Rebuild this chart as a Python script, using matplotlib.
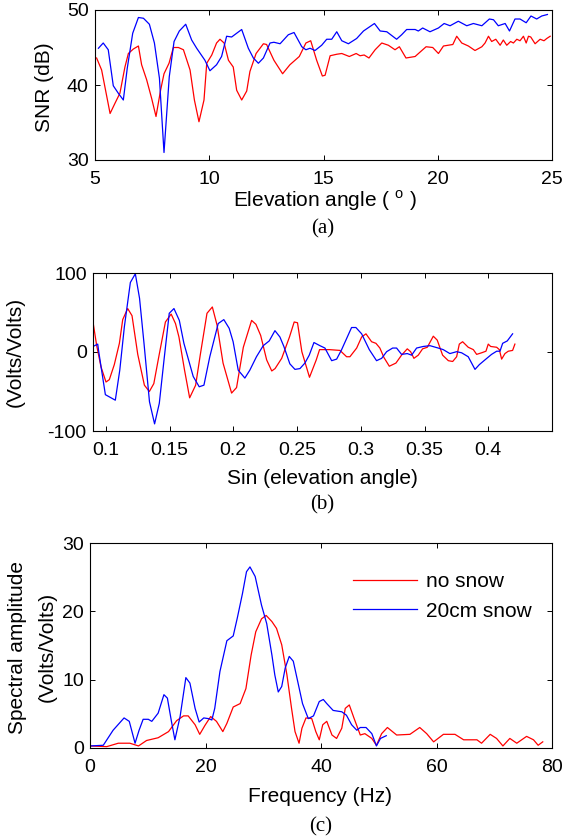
import matplotlib
matplotlib.use("Agg")
import matplotlib.pyplot as plt

plt.rcParams['font.family'] = ['Liberation Sans', 'DejaVu Sans']
plt.rcParams['mathtext.fontset'] = 'custom'
plt.rcParams['mathtext.rm'] = 'Liberation Sans'
plt.rcParams['axes.unicode_minus'] = False
plt.rcParams['font.size'] = 14

# ---------------- Panel (a): SNR vs elevation angle ----------------
a_blue_x = [5.15, 5.36, 5.58, 5.8, 6.02, 6.24, 6.41, 6.65, 6.9, 7.12, 7.38, 7.6, 7.82, 8.02, 8.25,
            8.46, 8.69, 8.97, 9.23, 9.45, 9.81, 10.03, 10.32, 10.54, 10.76, 10.98, 11.42, 11.71,
            11.93, 12.15, 12.37, 12.66, 12.83, 13.1, 13.46, 13.71, 14.05, 14.23, 14.41, 14.63,
            14.92, 15.14, 15.36, 15.58, 15.8, 16.09, 16.45, 16.75, 17.23, 17.48, 17.77, 18.2,
            18.42, 18.64, 19.01, 19.15, 19.34, 19.66, 20.03, 20.28, 20.54, 20.9, 21.27, 21.56,
            21.93, 22.26, 22.44, 22.65, 22.95, 23.14, 23.38, 23.6, 23.87, 24.08, 24.33, 24.55, 24.8]
a_blue_y = [44.9, 45.6, 44.7, 39.9, 38.9, 38.0, 42.2, 46.9, 49.0, 48.9, 48.1, 45.6, 40.9, 31.0, 41.1,
            45.8, 47.2, 48.1, 46.0, 44.9, 43.3, 41.9, 42.7, 43.8, 46.5, 46.4, 47.4, 44.9,
            43.6, 42.9, 43.6, 45.6, 45.7, 45.5, 46.7, 47.0, 45.1, 44.7, 44.9, 44.6,
            45.3, 46.1, 46.1, 47.1, 45.9, 45.5, 46.2, 47.2, 48.2, 47.2, 47.1, 46.1,
            46.7, 47.4, 47.4, 47.2, 47.6, 47.1, 47.6, 48.2, 47.9, 48.5, 47.9, 48.2,
            47.9, 48.8, 48.7, 47.9, 48.2, 47.2, 48.8, 48.8, 48.3, 49.2, 48.8, 49.2, 49.4]

a_red_x = [5.07, 5.29, 5.66, 5.88, 6.09, 6.31, 6.46, 6.68, 6.9, 7.04, 7.26, 7.48, 7.67, 7.87, 8.02,
           8.24, 8.43, 8.65, 8.87, 9.16, 9.35, 9.55, 9.77, 9.89, 10.11, 10.32, 10.47, 10.65,
           10.84, 11.05, 11.2, 11.42, 11.64, 11.78, 12.05, 12.37, 12.51, 12.83, 13.21, 13.53,
           13.94, 14.23, 14.44, 14.7, 14.95, 15.07, 15.29, 15.58, 15.8, 16.13, 16.43, 16.6,
           16.78, 16.99, 17.26, 17.55, 17.84, 18.13, 18.32, 18.61, 19.01, 19.23, 19.49, 19.78,
           20.03, 20.25, 20.66, 20.83, 21.05, 21.34, 21.63, 21.93, 22.07, 22.22, 22.36, 22.54,
           22.73, 22.87, 23.02, 23.19, 23.31, 23.46, 23.6, 23.75, 23.87, 23.97, 24.07, 24.26,
           24.48, 24.65, 24.77, 24.92]
a_red_y = [43.6, 42.0, 36.2, 37.6, 38.9, 42.4, 44.2, 44.8, 45.2, 42.7, 40.7, 38.2, 35.8, 39.3, 41.5,
           42.9, 45.0, 45.0, 44.7, 42.0, 38.0, 35.1, 38.0, 42.9, 44.0, 45.6, 46.1, 45.6,
           43.3, 42.4, 39.3, 38.0, 39.2, 41.8, 44.2, 45.5, 45.4, 43.3, 41.5, 42.7,
           43.8, 45.6, 45.9, 43.3, 41.2, 41.3, 43.9, 44.1, 44.2, 43.8, 44.2, 43.9,
           44.0, 43.6, 44.7, 45.6, 45.3, 44.7, 45.1, 43.6, 43.8, 44.4, 45.1, 45.0,
           44.2, 45.2, 45.4, 46.5, 45.6, 45.2, 44.6, 45.1, 45.6, 46.5, 45.8, 46.1,
           45.3, 46.0, 45.3, 45.8, 45.6, 46.1, 45.9, 46.5, 45.6, 46.5, 46.4, 45.5,
           46.1, 45.9, 46.2, 46.5]

a_xticks = [5, 10, 15, 20, 25]
a_yticks = [30, 40, 50]

# ---------------- Panel (b): detrended SNR vs sin(elevation) ----------------
b_blue_x = [0.09, 0.0937, 0.0945, 0.0997, 0.1075, 0.111, 0.1146, 0.1193, 0.1232, 0.1265, 0.130,
            0.1343, 0.1383, 0.142, 0.1457, 0.1498, 0.1535, 0.1577, 0.1613, 0.1686, 0.1733, 0.177,
            0.1816, 0.1882, 0.1926, 0.1968, 0.1999, 0.2039, 0.2091, 0.213, 0.2182, 0.2235, 0.2282,
            0.2327, 0.2366, 0.2397, 0.2444, 0.2484, 0.2523, 0.2562, 0.2596, 0.2633, 0.268, 0.2719,
            0.2772, 0.2811, 0.285, 0.2889, 0.2928, 0.2962, 0.3007, 0.3067, 0.3124, 0.3164, 0.3203,
            0.325, 0.3281, 0.332, 0.3365, 0.3399, 0.3438, 0.349, 0.3543, 0.3608, 0.3647, 0.3699,
            0.3752, 0.3791, 0.3843, 0.3896, 0.393, 0.3974, 0.4026, 0.4066, 0.4092, 0.4113, 0.4149,
            0.4191]
b_blue_y = [7, 10, 0.4, -54, -61, -23, 32, 88, 99, 68, 11,
            -63, -91, -65, -10, 49, 55, 40, 11, -31, -44, -42,
            -6, 36, 41, 30, 13, -23, -33, -23, -6, 8, 14,
            27, 19, 7, -15, -22, -21, -14, -4, 12, 8, 5,
            -11, -9, 3, 17, 31, 31, 23, 3, -11, -8, 0.4,
            5, 5, -3, -2, -4, 5, 7, 8, 5, 3, -2,
            0.4, -1, -6, -22, -16, -10, -3, 1, 1, 11, 14,
            23]

b_red_x = [0.09, 0.0929, 0.0963, 0.1002, 0.1028, 0.1067, 0.1107, 0.1133, 0.1172, 0.1206, 0.1251,
           0.1303, 0.1342, 0.1377, 0.1416, 0.1468, 0.1513, 0.1547, 0.1574, 0.1618, 0.1658, 0.1705,
           0.1742, 0.1794, 0.1836, 0.1873, 0.192, 0.1987, 0.2026, 0.2079, 0.2144, 0.2178, 0.2215,
           0.2262, 0.2302, 0.2328, 0.238, 0.2441, 0.2478, 0.2504, 0.2538, 0.2598, 0.2651, 0.2677,
           0.2755, 0.2837, 0.2889, 0.2915, 0.2968, 0.3007, 0.3041, 0.3085, 0.3119, 0.315, 0.3182,
           0.3224, 0.3276, 0.332, 0.3365, 0.3391, 0.3417, 0.3451, 0.3485, 0.3522, 0.3569, 0.36,
           0.3642, 0.3687, 0.3721, 0.3752, 0.3773, 0.3799, 0.3843, 0.3883, 0.3909, 0.3948, 0.3982,
           0.4, 0.4019, 0.4066, 0.4087, 0.4105, 0.4131, 0.4157, 0.4191, 0.4209]
b_red_y = [38, 8, -19, -38, -35, -16, 11, 41, 55, 46, -3,
           -42, -50, -40, -6, 38, 48, 36, 19, -23, -58, -42,
           -3, 49, 57, 34, -14, -52, -45, 6, 40, 35, 21,
           -10, -24, -21, -8, 19, 38, 37, 0.4, -32, -10, 3,
           3, 2, -6, -6, 5, 19, 23, 13, 11, 5, -7,
           -18, -14, -4, 4, 0.4, -8, -4, 4, 6, 20, 15,
           -4, -11, -12, -6, 10, 13, 6, 3, -3, -1, 1,
           10, 7, 6, 3, -9, -2, 1, 2, 10]

b_xticks = [0.1, 0.15, 0.2, 0.25, 0.3, 0.35, 0.4]
b_xticklabels = ['0.1', '0.15', '0.2', '0.25', '0.3', '0.35', '0.4']
b_yticks = [-100, 0, 100]

# ---------------- Panel (c): spectral amplitude vs frequency ----------------
c_red_x = [0, 2.9, 4.9, 6.9, 8.4, 9.8, 11.8, 13.6, 15.0, 16.2, 17.0, 18.2, 19.0, 19.9, 20.9, 21.9,
           23.0, 23.7, 24.8, 26.0, 27.0, 27.9, 28.7, 29.7, 30.5, 31.5, 32.3, 33.2, 34.1, 34.9,
           35.5, 36.2, 36.7, 37.4, 38.4, 39.1, 39.7, 40.3, 41.0, 41.9, 42.7, 43.6, 44.2, 44.9,
           45.7, 46.8, 47.6, 48.8, 49.6, 50.5, 51.5, 53.1, 55.4, 57.1, 58.3, 59.5, 61.2, 63.2,
           64.7, 67.0, 67.8, 69.3, 70.4, 71.5, 72.7, 73.9, 75.6, 76.8, 77.6, 78.4]
c_red_y = [0.3, 0.2, 0.7, 0.7, 0.3, 1.1, 1.5, 2.4, 4.0, 4.7, 4.7, 3.4, 2.0, 3.3, 4.6, 3.9,
           2.4, 3.6, 6.0, 6.5, 8.7, 13.6, 17.0, 18.9, 19.4, 18.5, 17.5, 15.1, 10.7, 5.8,
           2.4, 0.7, 2.9, 4.4, 4.3, 2.4, 1.2, 3.4, 3.9, 1.9, 1.4, 2.9, 5.8, 6.3,
           4.4, 1.9, 2.1, 1.4, 0.4, 2.1, 3.0, 1.9, 2.0, 3.0, 2.1, 0.9, 2.0, 2.0,
           1.2, 1.2, 0.7, 2.0, 1.4, 0.3, 1.4, 0.7, 1.7, 1.2, 0.4, 0.9]

c_blue_x = [0, 2.3, 4.0, 5.9, 6.8, 7.8, 8.5, 9.2, 10.1, 10.7, 11.8, 12.8, 13.4, 14.1, 14.7, 15.6,
            16.6, 17.3, 18.2, 18.9, 19.7, 20.5, 21.1, 21.6, 22.5, 23.7, 24.8, 25.5, 26.4, 27.1,
            27.7, 28.6, 29.7, 30.6, 31.5, 32.0, 32.6, 33.2, 33.8, 34.5, 35.2, 35.9, 36.8, 37.8,
            38.7, 39.7, 40.4, 41.0, 42.1, 43.6, 44.4, 45.3, 46.2, 46.8, 47.8, 48.8, 49.6, 50.3,
            51.3]
c_blue_y = [0.3, 0.4, 2.6, 4.4, 3.9, 0.7, 2.6, 4.2, 4.2, 3.9, 5.1, 7.8, 7.3, 3.9, 1.2, 4.6,
            10.3, 9.5, 5.8, 3.8, 4.4, 4.3, 4.1, 5.8, 11.2, 15.7, 16.4, 19.0, 22.6, 25.8,
            26.5, 25.1, 20.9, 18.2, 13.6, 10.7, 8.2, 9.0, 11.7, 13.4, 12.7, 10.0, 6.5, 4.3,
            4.7, 6.8, 7.1, 6.5, 5.5, 5.3, 4.8, 3.4, 2.6, 3.0, 3.0, 2.1, 0.3, 1.4,
            1.8]

c_xticks = [0, 20, 40, 60, 80]
c_yticks = [0, 10, 20, 30]
legend_labels = ['no snow', '20cm snow']

RED = '#ff0000'
BLUE = '#0000ff'
TICK_FS = 14
LABEL_FS = 15

W, H = 565, 840
fig = plt.figure(figsize=(W / 100, H / 100), dpi=100)


def px_axes(l, t, r, b):
    return fig.add_axes([l / W, 1 - b / H, (r - l) / W, (b - t) / H])


def style(ax):
    for s in ax.spines.values():
        s.set_linewidth(0.8)
    ax.tick_params(direction='in', top=True, right=True, length=3.5, width=0.7,
                   labelsize=TICK_FS)
    ax.tick_params(axis='x', pad=8)
    ax.tick_params(axis='y', pad=4.5)


def ftext(x, y, s, **kw):
    fig.text(x / W, 1 - y / H, s, ha='center', va='center', **kw)


# (a)
ax1 = px_axes(95, 10, 552, 160)
ax1.plot(a_red_x, a_red_y, color=RED, lw=0.9)
ax1.plot(a_blue_x, a_blue_y, color=BLUE, lw=0.9)
ax1.set_xlim(5, 25)
ax1.set_ylim(30, 50)
ax1.set_xticks(a_xticks)
ax1.set_yticks(a_yticks)
style(ax1)
ftext(325, 201, 'Elevation angle ( $^{\\mathrm{o}}$ )', fontsize=LABEL_FS)
ftext(44, 87, 'SNR (dB)', fontsize=LABEL_FS, rotation=90)
ftext(323, 229, '(a)', fontsize=LABEL_FS, family='Liberation Serif')

# (b)
ax2 = px_axes(93, 273, 552, 431)
ax2.plot(b_red_x, b_red_y, color=RED, lw=0.9)
ax2.plot(b_blue_x, b_blue_y, color=BLUE, lw=0.9)
ax2.set_xlim(0.09, 0.45)
ax2.set_ylim(-100, 100)
ax2.set_xticks(b_xticks)
ax2.set_xticklabels(b_xticklabels)
ax2.set_yticks(b_yticks)
style(ax2)
ftext(322, 478, 'Sin (elevation angle)', fontsize=LABEL_FS)
ftext(15, 352, '(Volts/Volts)', fontsize=LABEL_FS, rotation=90)
ftext(322, 505, '(b)', fontsize=LABEL_FS, family='Liberation Serif')

# (c)
ax3 = px_axes(90, 543, 552, 748)
ax3.plot(c_red_x, c_red_y, color=RED, lw=0.9, label=legend_labels[0])
ax3.plot(c_blue_x, c_blue_y, color=BLUE, lw=0.9, label=legend_labels[1])
ax3.set_xlim(0, 80)
ax3.set_ylim(0, 30)
ax3.set_xticks(c_xticks)
ax3.set_yticks(c_yticks)
style(ax3)
ax3.legend(loc='upper left', bbox_to_anchor=(0.569, 0.857), frameon=False, fontsize=LABEL_FS,
           borderpad=0, borderaxespad=0, handlelength=3.1, handletextpad=0.42,
           labelspacing=0.5)
ftext(320, 797, 'Frequency (Hz)', fontsize=LABEL_FS)
ftext(18, 647, 'Spectral amplitude', fontsize=LABEL_FS, rotation=90)
ftext(47, 647, '(Volts/Volts)', fontsize=LABEL_FS, rotation=90)
ftext(321, 827, '(c)', fontsize=LABEL_FS, family='Liberation Serif')

fig.savefig('out.png', dpi=100, facecolor='white')
